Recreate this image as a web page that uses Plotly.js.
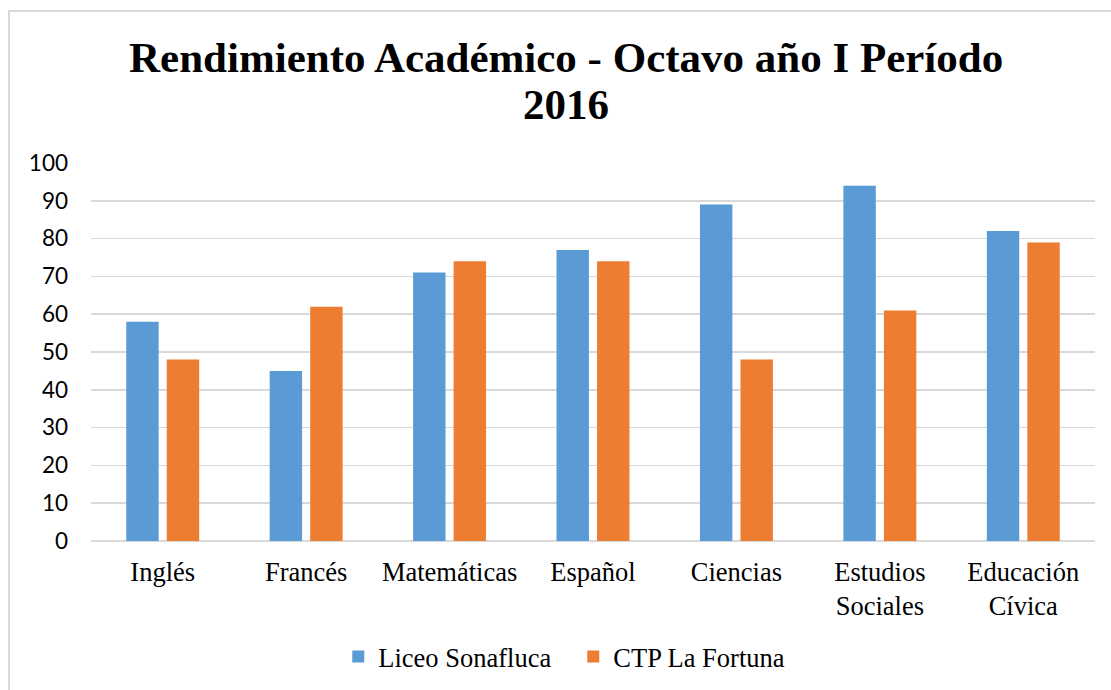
<!DOCTYPE html>
<html><head><meta charset="utf-8">
<script src="https://cdn.plot.ly/plotly-3.0.1.min.js"></script>
<style>
html,body{margin:0;padding:0;background:#fff;}
#wrap{position:relative;width:1111px;height:690px;}
#frame{position:absolute;left:8px;top:10px;width:1103px;height:680px;border-left:2px solid #d9d9d9;border-top:2px solid #d9d9d9;pointer-events:none;box-sizing:border-box;}
</style>
</head><body>
<div id="wrap"><div id="chart" style="width:1111px;height:690px;"></div><div id="frame"></div></div>
<script>
const categories = ["Inglés","Francés","Matemáticas","Español","Ciencias","Estudios<br>Sociales","Educación<br>Cívica"];
const liceoSonafluca = [58,45,71,77,89,94,82];
const ctpLaFortuna = [48,62,74,74,48,61,79];
const yTicks = [0,10,20,30,40,50,60,70,80,90,100];
const titleLines = ["Rendimiento Académico - Octavo año I Período","2016"];

const serif = 'Liberation Serif';
const traces = [
  {type:'bar', name:'Liceo Sonafluca', x:categories, y:liceoSonafluca, marker:{color:'#5B9BD5'}},
  {type:'bar', name:'CTP La Fortuna', x:categories, y:ctpLaFortuna, marker:{color:'#ED7D31'}}
];
const layout = {
  width:1111, height:690,
  margin:{l:91, r:16, t:163, b:149},
  paper_bgcolor:'#fff', plot_bgcolor:'#fff',
  barmode:'group', bargap:0.435, bargroupgap:0.2,
  annotations:[
    {text:'<b>'+titleLines[0]+'</b>', xref:'paper', yref:'paper', x:0.473, y:1.2804, xanchor:'center', yanchor:'middle', showarrow:false,
     font:{family:serif, size:43, color:'#000'}},
    {text:'<b>'+titleLines[1]+'</b>', xref:'paper', yref:'paper', x:0.473, y:1.156, xanchor:'center', yanchor:'middle', showarrow:false,
     font:{family:serif, size:43, color:'#000'}}
  ],
  xaxis:{tickfont:{family:serif, size:26.5, color:'#000'},
    showline:false, showgrid:false, ticks:'', ticklabelstandoff:12, fixedrange:true},
  yaxis:{range:[0,100], tickvals:yTicks, tickfont:{family:'Lato', size:22.5, color:'#000'},
    gridcolor:'#d9d9d9', gridwidth:1.5, zeroline:true, zerolinecolor:'#d9d9d9', zerolinewidth:1.5,
    showline:false, ticks:'', ticklabelstandoff:22},
  legend:{orientation:'h', x:0.516, xref:'container', xanchor:'center', y:0.048, yref:'container', yanchor:'middle',
    font:{family:serif, size:26.5, color:'#000'}, itemwidth:30, traceorder:'normal',
    entrywidth:190, entrywidthmode:'pixels'},
  showlegend:true
};
Plotly.newPlot('chart', traces, layout, {displayModeBar:false, staticPlot:true});
</script>
</body></html>
